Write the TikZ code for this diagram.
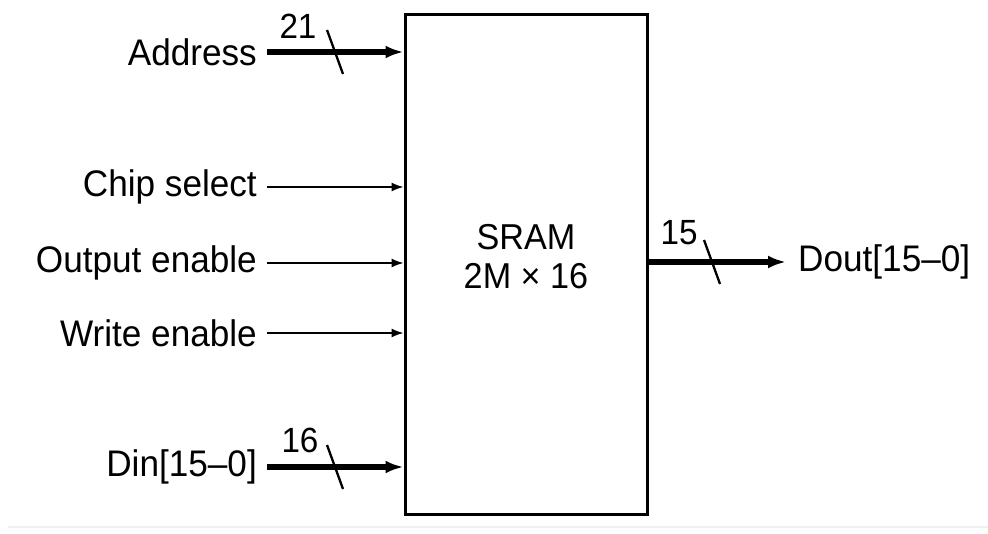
\documentclass[tikz,border=0pt]{standalone}
\usepackage{fontspec}
\setmainfont[FakeStretch=0.95]{Liberation Sans}
\usetikzlibrary{positioning,arrows.meta}

\begin{document}
\begin{tikzpicture}[
        x=1pt, y=-1pt,
        font=\fontsize{37}{38}\selectfont,
        chip/.style={draw=black, line width=3pt, minimum width=242pt, minimum height=499pt, inner sep=0pt},
        chiptext/.style={anchor=base, inner sep=0pt, text height=26pt, text depth=1pt, font=\fontsize{36}{38}\selectfont},
        pin/.style={anchor=east, inner sep=2pt},
        sig/.style={line width=1.5pt, -{Latex[length=12pt, width=9pt]}, shorten <=8pt},
        bus/.style={line width=5.5pt, -{Latex[length=18pt, width=13pt]}, shorten <=8pt},
        tick/.style={line width=2.3pt},
        width/.style={inner sep=0pt, font=\fontsize{35}{38}\selectfont}
    ]
    \useasboundingbox (0,0) rectangle (988,534);

    % --- Memory block ---
    \node[chip] (sram) at (526,264.5) {};
    \node[chiptext] (sramA) at (526,250) {SRAM};
    \node[chiptext] (sramB) at (526,289) {2M × 16};

    % --- Input pins ---
    \node[pin] (addr) at (259,52)  {Address};
    \node[pin] (cs)   at (259,187) {Chip select};
    \node[pin] (oe)   at (259,263) {Output enable};
    \node[pin] (we)   at (259,333) {Write enable};
    \node[pin] (din)  at (259,467) {Din[15--0]};

    % --- Output pin ---
    \node[anchor=west, inner sep=2pt] (dout) at (796,262) {Dout[15--0]};

    % --- Connectors ---
    \draw[bus] (addr.east) -- (sram.west |- addr.east);
    \draw[sig] (cs.east) -- (sram.west |- cs.east);
    \draw[sig] (oe.east) -- (sram.west |- oe.east);
    \draw[sig] (we.east) -- (sram.west |- we.east);
    \draw[bus] (din.east) -- (sram.west |- din.east);
    \draw[bus, shorten <=0pt, shorten >=10pt] (sram.east |- dout.west) -- (dout.west);

    % --- Bus widths ---
    \coordinate (tA) at (335,52);
    \coordinate (tD) at (335,467);
    \coordinate (tO) at (712,262);
    \draw[tick] (tA) ++(-8,-22) -- ++(16,44);
    \draw[tick] (tD) ++(-8,-22) -- ++(16,44);
    \draw[tick] (tO) ++(-8,-22) -- ++(16,44);
    \node[width] (wA) at (298,26)  {21};
    \node[width] (wD) at (300,440) {16};
    \node[width] (wO) at (679,233) {15};

    % --- faint rule at the bottom ---
    \draw[black!6, line width=1.2pt] (8,527) -- (988,527);

\end{tikzpicture}
\end{document}
